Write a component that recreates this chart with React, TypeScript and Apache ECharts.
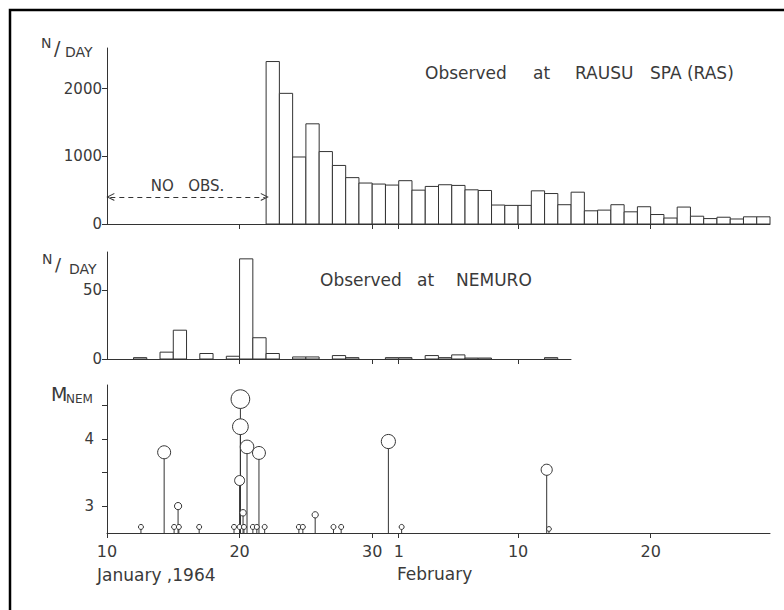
import React, { useEffect, useRef } from 'react';
import * as echarts from 'echarts';

// ---- data ----
// Day numbers counted from 1 January 1964 (1 Feb = day 32, 29 Feb = day 60)
const rasDays = [22, 23, 24, 25, 26, 27, 28, 29, 30, 31, 32, 33, 34, 35, 36, 37, 38, 39, 40, 41, 42, 43, 44, 45, 46, 47, 48, 49, 50, 51, 52, 53, 54, 55, 56, 57, 58, 59];
const rasCounts = [2400, 1930, 990, 1480, 1070, 865, 685, 605, 590, 575, 640, 500, 555, 580, 570, 505, 495, 280, 275, 275, 490, 450, 285, 470, 195, 205, 285, 180, 255, 140, 88, 250, 115, 80, 100, 74, 106, 106];

const nemDays = [12, 14, 15, 17, 19, 20, 21, 22, 24, 25, 27, 28, 31, 32, 34, 35, 36, 37, 38, 43];
const nemCounts = [1, 5, 21, 4, 2, 73, 15.5, 4, 1.5, 1.5, 2.5, 1, 1, 1, 2.5, 1, 3, 0.7, 0.7, 1];

const eqTimes = [12.56, 14.31, 15.06, 15.36, 15.42, 16.95, 19.58, 20.0, 20.0, 20.06, 20.06, 20.26, 20.33, 20.56, 21.0, 21.3, 21.46, 21.89, 24.47, 24.77, 25.7, 27.08, 27.66, 31.22, 32.22, 43.16, 43.33];
const eqMags = [2.69, 3.8, 2.69, 3.0, 2.69, 2.69, 2.69, 3.38, 2.69, 4.59, 4.18, 2.9, 2.69, 3.88, 2.69, 2.69, 3.79, 2.69, 2.69, 2.69, 2.87, 2.69, 2.69, 3.96, 2.69, 3.54, 2.66];

const xTickValues = [10, 20, 30, 32, 41, 51];
const xTickLabels = ['10', '20', '30', '1', '10', '20'];
const rasYTicks = [0, 1000, 2000];
const nemYTicks = [0, 50];
const magYTicks = [3, 3.5, 4, 4.5];
const magYLabels = [3, 4];

export default function App() {
  const ref = useRef<HTMLDivElement>(null);

  useEffect(() => {
    const chart = echarts.init(ref.current!, null, { renderer: 'svg' });
    const font = 'DejaVu Sans';
    const ink = '#333';
    const textInk = '#3a3a3a';

    const axisLine = { show: true, lineStyle: { color: ink, width: 1 } };
    const barRender = (params: any, api: any) => {
      const d = api.value(0);
      const v = api.value(1);
      const p0 = api.coord([d, 0]);
      const p1 = api.coord([d + 1, v]);
      return {
        type: 'rect',
        shape: { x: p0[0], y: p1[1], width: p1[0] - p0[0], height: p0[1] - p1[1] },
        style: { fill: '#fff', stroke: ink, lineWidth: 1 },
      };
    };

    const xCommon = (idx: number, max: number, ticks: number[], showLabels: boolean) => ({
      type: 'value',
      gridIndex: idx,
      min: 10,
      max,
      splitLine: { show: false },
      axisLine,
      axisTick: { show: true, customValues: ticks, length: 5, lineStyle: { color: ink } },
      axisLabel: {
        show: showLabels,
        customValues: xTickValues,
        formatter: (v: number) => xTickLabels[xTickValues.indexOf(v)] ?? '',
        color: textInk,
        fontFamily: font,
        fontSize: 16,
        margin: 10,
      },
    });

    const yCommon = (idx: number, min: number, max: number, ticks: number[], labels: number[], margin: number) => ({
      type: 'value',
      gridIndex: idx,
      min,
      max,
      splitLine: { show: false },
      axisLine,
      axisTick: { show: true, customValues: ticks, length: 5, lineStyle: { color: ink } },
      axisLabel: {
        customValues: labels,
        formatter: (v: number) => String(v),
        color: textInk,
        fontFamily: font,
        fontSize: 15,
        margin,
      },
    });

    const txt = (text: string, x: number, y: number, size: number, align = 'left') => ({
      type: 'text',
      x,
      y,
      style: { text, fill: textInk, font: `${size}px "${font}"`, textAlign: align, textVerticalAlign: 'middle' },
    });

    chart.setOption({
      animation: false,
      backgroundColor: '#fff',
      grid: [
        { left: 107, top: 48, width: 663, height: 176, outerBoundsMode: 'none' },
        { left: 107, top: 252, width: 464, height: 107, outerBoundsMode: 'none' },
        { left: 107, top: 385, width: 663, height: 148, outerBoundsMode: 'none' },
      ],
      xAxis: [
        xCommon(0, 60, [20, 30, 32, 41, 51], false),
        xCommon(1, 45, [20, 30, 32, 41], false),
        xCommon(2, 60, xTickValues, true),
      ],
      yAxis: [
        yCommon(0, 0, 2600, rasYTicks, rasYTicks, 5),
        yCommon(1, 0, 78, nemYTicks, nemYTicks, 5),
        yCommon(2, 2.6, 4.8, magYTicks, magYLabels, 13),
      ],
      series: [
        {
          type: 'custom',
          xAxisIndex: 0,
          yAxisIndex: 0,
          renderItem: barRender,
          data: rasDays.map((d, i) => [d, rasCounts[i]]),
          silent: true,
        },
        {
          type: 'line',
          xAxisIndex: 0,
          yAxisIndex: 0,
          data: [],
          markLine: {
            silent: true,
            symbol: ['path://M0,10 L5,0 L10,10 L8.6,10 L5,2.6 L1.4,10 Z', 'path://M0,10 L5,0 L10,10 L8.6,10 L5,2.6 L1.4,10 Z'],
            symbolSize: [8, 8],
            lineStyle: { type: [5, 4], color: ink, width: 1 },
            label: {
              show: true,
              position: 'insideMiddleTop',
              distance: 3,
              formatter: 'NO   OBS.',
              color: textInk,
              fontFamily: font,
              fontSize: 15,
            },
            data: [[{ coord: [10.25, 400] }, { coord: [21.9, 400] }]],
          },
        },
        {
          type: 'custom',
          xAxisIndex: 1,
          yAxisIndex: 1,
          renderItem: barRender,
          data: nemDays.map((d, i) => [d, nemCounts[i]]),
          silent: true,
        },
        {
          type: 'custom',
          xAxisIndex: 2,
          yAxisIndex: 2,
          z: 2,
          renderItem: (params: any, api: any) => {
            const t = api.value(0);
            const m = api.value(1);
            const a = api.coord([t, 2.6]);
            const b = api.coord([t, m]);
            return {
              type: 'line',
              shape: { x1: a[0], y1: a[1], x2: b[0], y2: b[1] },
              style: { stroke: ink, lineWidth: 1 },
            };
          },
          data: eqTimes.map((t, i) => [t, eqMags[i]]),
          silent: true,
        },
        {
          type: 'scatter',
          xAxisIndex: 2,
          yAxisIndex: 2,
          z: 3,
          symbol: 'circle',
          symbolSize: (val: number[]) => 2 * (2.5 + (val[1] - 2.69) * 3.6),
          itemStyle: { color: '#fff', borderColor: ink, borderWidth: 1, opacity: 1 },
          data: eqTimes.map((t, i) => [t, eqMags[i]]),
          silent: true,
        },
      ],
      graphic: [
        {
          type: 'rect',
          shape: { x: 10, y: 10, width: 1000, height: 1000 },
          style: { fill: 'none', stroke: '#000', lineWidth: 2.5 },
          silent: true,
        },
        txt('Observed', 425, 73, 17),
        txt('at', 533, 73, 17),
        txt('RAUSU', 575, 73, 17),
        txt('SPA (RAS)', 650, 73, 17),
        txt('Observed', 320, 280, 17),
        txt('at', 417, 280, 17),
        txt('NEMURO', 456, 280, 17),
        txt('N', 41, 43, 14),
        txt('/', 54, 48, 19),
        txt('DAY', 65, 52, 14),
        txt('N', 42, 259, 14),
        txt('/', 55, 264, 18),
        txt('DAY', 69, 269, 14),
        txt('M', 51, 394, 19),
        txt('NEM', 66, 399, 12),
        txt('January ,1964', 97, 575, 17),
        txt('February', 397, 574, 17),
      ],
    });

    return () => chart.dispose();
  }, []);

  return <div ref={ref} style={{ position: 'absolute', left: 0, top: 0, width: 784, height: 610 }} />;
}
